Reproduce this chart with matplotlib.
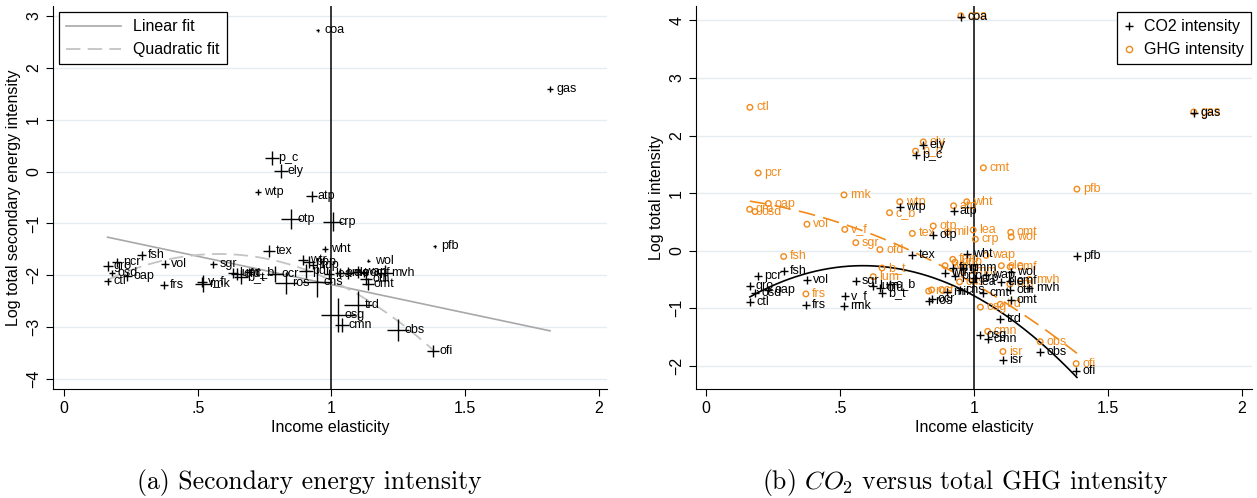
import numpy as np
import matplotlib
matplotlib.use("Agg")
import matplotlib.pyplot as plt
from matplotlib.lines import Line2D

plt.rcParams['font.family'] = ['Liberation Sans', 'DejaVu Sans']
plt.rcParams['mathtext.fontset'] = 'cm'

# ---- panel (a): secondary energy intensity ----
names_a = ["coa", "gas", "p_c", "ely", "wtp", "atp", "otp", "crp", "tex", "wht", "pfb", "wol",
           "fsh", "pcr", "gro", "osd", "ctl", "oap", "vol", "frs", "rmk", "v_f", "sgr", "lum",
           "ofd", "c_b", "b_t", "ocr", "ros", "wtr", "ppp", "pdr", "fmp", "cns", "lea", "ome",
           "ele", "wap", "omf", "mvh", "otn", "omt", "trd", "osg", "cmn", "obs", "ofi"]
elas_a = [0.949, 1.817, 0.779, 0.811, 0.724, 0.926, 0.849, 1.004, 0.768, 0.975, 1.386, 1.138,
          0.290, 0.198, 0.163, 0.178, 0.163, 0.236, 0.377, 0.373, 0.520, 0.515, 0.558, 0.630,
          0.648, 0.690, 0.660, 0.790, 0.830, 0.895, 0.915, 0.905, 0.930, 0.945, 0.990, 1.030,
          1.060, 1.100, 1.120, 1.200, 1.130, 1.135, 1.100, 1.025, 1.040, 1.250, 1.380]
energy_a = [2.72, 1.59, 0.27, 0.01, -0.39, -0.48, -0.92, -0.97, -1.54, -1.49, -1.44, -1.72,
            -1.61, -1.75, -1.83, -1.95, -2.11, -2.02, -1.79, -2.19, -2.16, -2.12, -1.79, -1.95,
            -1.98, -1.93, -2.03, -1.98, -2.15, -1.70, -1.75, -1.92, -1.80, -2.12, -1.97, -1.95,
            -1.96, -1.93, -1.95, -1.96, -2.08, -2.16, -2.57, -2.76, -2.95, -3.05, -3.46]
# analytic weight (drives the size of the + markers)
weight_a = [3, 6, 14, 14, 6, 11, 20, 19, 12, 6, 3, 3,
            9, 9, 10, 6, 7, 9, 8, 8, 17, 10, 7, 10,
            12, 8, 14, 16, 22, 10, 12, 14, 8, 30, 10, 10,
            12, 12, 8, 16, 12, 12, 28, 34, 14, 22, 12]

lin_a = [-1.088, -1.091]            # intercept, slope
quad_a = [-2.558, 3.344, -2.886]    # a, b, c
lin_range_a = [0.163, 1.817]
quad_range_a = [0.163, 1.380]

# ---- panel (b): CO2 vs total GHG intensity ----
names_b = ["coa", "gas", "ely", "p_c", "ctl", "pcr", "cmt", "pfb", "rmk", "wtp", "wht", "atp",
           "oap", "gro", "osd", "c_b", "vol", "v_f", "otp", "tex", "mil", "lea", "crp", "omt",
           "wol", "sgr", "ofd", "fsh", "wap", "fmp", "b_t", "ele", "omf", "lum", "mvh", "cns",
           "otn", "ros", "ocr", "frs", "wtr", "ppp", "nmm", "trd", "osg", "cmn", "obs", "isr", "ofi"]
elas_b = [0.951, 1.820, 0.811, 0.782, 0.164, 0.195, 1.035, 1.384, 0.515, 0.723, 0.973, 0.924,
          0.233, 0.163, 0.183, 0.685, 0.377, 0.518, 0.848, 0.770, 0.900, 0.997, 1.005, 1.137,
          1.139, 0.559, 0.649, 0.290, 1.045, 0.921, 0.657, 1.102, 1.135, 0.624, 1.207, 0.946,
          1.134, 0.831, 0.842, 0.373, 0.892, 0.929, 0.958, 1.098, 1.024, 1.051, 1.247, 1.108, 1.381]
co2_b = [4.05, 2.39, 1.84, 1.66, -0.89, -0.44, -0.74, -0.09, -0.96, 0.76, -0.05, 0.69,
         -0.68, -0.61, -0.73, -0.58, -0.51, -0.79, 0.27, -0.07, -0.72, -0.54, -0.48, -0.85,
         -0.37, -0.53, -0.64, -0.35, -0.42, -0.30, -0.74, -0.55, -0.52, -0.62, -0.64, -0.68,
         -0.68, -0.87, -0.83, -0.94, -0.38, -0.44, -0.30, -1.19, -1.46, -1.54, -1.75, -1.90, -2.08]
ghg_b = [4.08, 2.41, 1.89, 1.73, 2.49, 1.35, 1.44, 1.07, 0.97, 0.85, 0.85, 0.78,
         0.82, 0.72, 0.68, 0.66, 0.46, 0.37, 0.43, 0.30, 0.32, 0.36, 0.20, 0.32,
         0.24, 0.14, 0.02, -0.10, -0.08, -0.15, -0.30, -0.26, -0.28, -0.45, -0.50, -0.54,
         -0.58, -0.70, -0.68, -0.75, -0.26, -0.20, -0.36, -0.93, -0.98, -1.40, -1.58, -1.75, -1.96]

quad_co2 = [-1.306, 3.571, -3.047]
quad_ghg = [0.947, -0.334, -1.183]
quad_range_b = [0.164, 1.384]

ORANGE = "#f28a1a"
GRID = "#e4ecf0"
FS = 11.5

fig = plt.figure(figsize=(12.57, 4.98), dpi=100)
ax1 = fig.add_axes([0.0422, 0.219, 0.4407, 0.769])
ax2 = fig.add_axes([0.5537, 0.219, 0.4423, 0.769])


def style_axes(ax, yticks):
    for s in ["top", "right"]:
        ax.spines[s].set_visible(False)
    ax.set_xticks([0, 0.5, 1, 1.5, 2])
    ax.set_xticklabels(["0", ".5", "1", "1.5", "2"])
    ax.set_yticks(yticks)
    ax.set_yticklabels(["\u2212%d" % -t if t < 0 else "%d" % t for t in yticks],
                       rotation=90, va="center")
    ax.tick_params(direction="out", length=5, labelsize=FS, width=0.8)
    for t in yticks:
        ax.axhline(t, color=GRID, lw=1.0, zorder=0)
    ax.axvline(1, color="black", lw=1.1, zorder=1)
    ax.set_xlabel("Income elasticity", fontsize=FS, labelpad=3)


# panel (a)
style_axes(ax1, [-4, -3, -2, -1, 0, 1, 2, 3])
ax1.set_xlim(-0.041, 2.03)
ax1.set_ylim(-4.19, 3.19)
ax1.set_ylabel("Log total secondary energy intensity", fontsize=FS, labelpad=4)

sizes = (np.array(weight_a) * 0.72) ** 2
ax1.scatter(elas_a, energy_a, s=sizes, marker="+", color="black", linewidths=1.0, zorder=3)
for n, x, y in zip(names_a, elas_a, energy_a):
    ax1.annotate(n, (x, y), xytext=(4.5, 0), textcoords="offset points",
                 va="center", ha="left", fontsize=9, zorder=4)

xl = np.linspace(lin_range_a[0], lin_range_a[1], 100)
ax1.plot(xl, lin_a[0] + lin_a[1] * xl, color="#a8a8a8", lw=1.2, zorder=2)
xq = np.linspace(quad_range_a[0], quad_range_a[1], 200)
ax1.plot(xq, np.polyval(quad_a[::-1], xq), color="#c4c4c4", lw=1.3,
         dashes=(8, 4), zorder=2)

h1 = [Line2D([], [], color="#a8a8a8", lw=1.2),
      Line2D([], [], color="#c4c4c4", lw=1.3, dashes=(8, 4))]
leg1 = ax1.legend(h1, ["Linear fit", "Quadratic fit"], loc="upper left",
                  bbox_to_anchor=(0.011, 0.984), borderaxespad=0, fontsize=FS,
                  frameon=True, fancybox=False, edgecolor="black", framealpha=1,
                  handlelength=3.4, borderpad=0.45, labelspacing=0.5)
leg1.get_frame().set_linewidth(0.9)

# panel (b)
style_axes(ax2, [-2, -1, 0, 1, 2, 3, 4])
ax2.set_xlim(-0.037, 2.037)
ax2.set_ylim(-2.40, 4.25)
ax2.set_ylabel("Log total intensity", fontsize=FS, labelpad=4)

xb = np.linspace(quad_range_b[0], quad_range_b[1], 200)
ax2.plot(xb, np.polyval(quad_co2[::-1], xb), color="black", lw=1.2, zorder=2)
ax2.plot(xb, np.polyval(quad_ghg[::-1], xb), color=ORANGE, lw=1.2,
         dashes=(10, 5), zorder=2)

ax2.scatter(elas_b, ghg_b, s=16, marker="o", facecolors="none", edgecolors=ORANGE,
            linewidths=1.0, zorder=3)
for n, x, y in zip(names_b, elas_b, ghg_b):
    ax2.annotate(n, (x, y), xytext=(4.5, 0), textcoords="offset points",
                 va="center", ha="left", fontsize=9, color=ORANGE, zorder=4)
ax2.scatter(elas_b, co2_b, s=28, marker="+", color="black", linewidths=1.0, zorder=5)
for n, x, y in zip(names_b, elas_b, co2_b):
    ax2.annotate(n, (x, y), xytext=(4.5, 0), textcoords="offset points",
                 va="center", ha="left", fontsize=9, color="black", zorder=6)

h2 = [Line2D([], [], ls="none", marker="+", color="black", markersize=6),
      Line2D([], [], ls="none", marker="o", markerfacecolor="none",
             markeredgecolor=ORANGE, markersize=4.5)]
leg2 = ax2.legend(h2, ["CO2 intensity", "GHG intensity"], loc="upper right",
                  bbox_to_anchor=(0.998, 0.984), borderaxespad=0, fontsize=FS,
                  frameon=True, fancybox=False, edgecolor="black", framealpha=1,
                  handlelength=0.6, handletextpad=0.6, borderpad=0.45, labelspacing=0.5)
leg2.get_frame().set_linewidth(0.9)

# captions
fig.text(0.246, 0.032, "(a) Secondary energy intensity", ha="center", va="center",
         fontsize=18.5, family="cmr10")
fig.text(0.768, 0.032, "(b) $CO_2$ versus total GHG intensity", ha="center", va="center",
         fontsize=18.5, family="cmr10")

fig.savefig("out.png", dpi=100)
